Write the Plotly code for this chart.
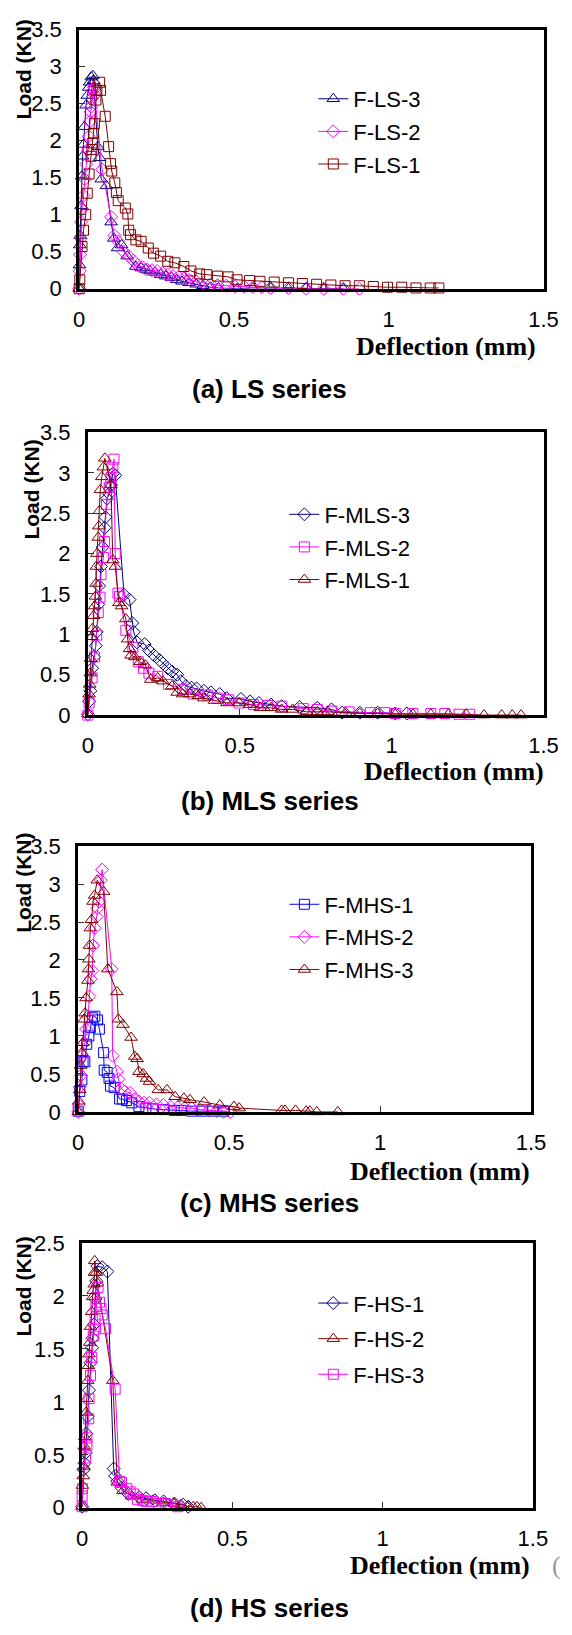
import plotly.graph_objects as go

W, H = 572, 1635

# ---------------- data ----------------
# (a) LS series
x_ls3 = [0.000, 0.001, 0.002, 0.003, 0.006, 0.008, 0.011, 0.014, 0.017, 0.022, 0.026, 0.031, 0.034, 0.039, 0.044, 0.046,
         0.060, 0.066, 0.071, 0.088, 0.103, 0.112, 0.124, 0.137, 0.155, 0.183, 0.200, 0.215, 0.229, 0.245, 0.263, 0.280,
         0.298, 0.315, 0.332, 0.355, 0.378, 0.400, 0.424, 0.450, 0.510, 0.561, 0.618, 0.676, 0.733, 0.790, 0.853]
y_ls3 = [0.00, 0.32, 0.59, 0.72, 1.12, 1.52, 1.79, 1.95, 2.19, 2.48, 2.61, 2.72, 2.79, 2.86, 2.88, 2.81,
         1.92, 1.77, 1.48, 1.39, 0.90, 0.68, 0.55, 0.59, 0.44, 0.30, 0.28, 0.26, 0.24, 0.22, 0.19, 0.17,
         0.15, 0.12, 0.10, 0.08, 0.06, 0.04, 0.02, 0.01, 0.00, 0.01, 0.01, 0.00, 0.01, 0.00, 0.00]

x_ls2 = [0.000, 0.002, 0.003, 0.005, 0.006, 0.009, 0.014, 0.018, 0.023, 0.029, 0.031, 0.034, 0.037, 0.039, 0.041, 0.045,
         0.048, 0.050, 0.074, 0.103, 0.114, 0.126, 0.143, 0.160, 0.175, 0.189, 0.204, 0.218, 0.235, 0.252, 0.270, 0.286,
         0.303, 0.321, 0.338, 0.355, 0.378, 0.401, 0.424, 0.447, 0.475, 0.504, 0.532, 0.561, 0.590, 0.618, 0.676, 0.733,
         0.790, 0.853, 0.905]
y_ls2 = [0.00, 0.24, 0.46, 0.68, 0.90, 1.08, 1.26, 1.48, 1.68, 1.88, 2.06, 2.26, 2.39, 2.46, 2.57, 2.68,
         2.72, 2.62, 1.61, 0.97, 0.72, 0.64, 0.50, 0.44, 0.38, 0.32, 0.29, 0.26, 0.25, 0.24, 0.21, 0.19,
         0.17, 0.16, 0.14, 0.12, 0.10, 0.08, 0.06, 0.05, 0.04, 0.03, 0.03, 0.02, 0.02, 0.01, 0.01, 0.00,
         0.00, 0.00, 0.00]

x_ls1 = [0.000, 0.002, 0.009, 0.014, 0.021, 0.026, 0.032, 0.038, 0.041, 0.044, 0.046, 0.049, 0.054, 0.057, 0.066, 0.069,
         0.084, 0.095, 0.101, 0.105, 0.115, 0.120, 0.126, 0.149, 0.157, 0.160, 0.166, 0.183, 0.200, 0.223, 0.240, 0.263,
         0.286, 0.309, 0.338, 0.361, 0.389, 0.412, 0.447, 0.481, 0.510, 0.550, 0.584, 0.630, 0.676, 0.721, 0.767, 0.813,
         0.859, 0.905, 0.950, 0.996, 1.042, 1.088, 1.134, 1.162]
y_ls1 = [0.00, 0.12, 0.57, 0.79, 1.00, 1.29, 1.55, 1.79, 1.88, 1.97, 2.10, 2.23, 2.55, 2.68, 2.79, 2.68,
         2.33, 1.92, 1.69, 1.59, 1.43, 1.30, 1.19, 1.09, 1.01, 0.79, 0.73, 0.66, 0.64, 0.55, 0.48, 0.44,
         0.37, 0.35, 0.30, 0.24, 0.20, 0.19, 0.17, 0.16, 0.12, 0.11, 0.10, 0.09, 0.08, 0.07, 0.06, 0.05,
         0.04, 0.04, 0.03, 0.02, 0.02, 0.01, 0.01, 0.01]

# (b) MLS series
x_mls3 = [0.000, 0.004, 0.008, 0.014, 0.020, 0.026, 0.029, 0.034, 0.037, 0.043, 0.049, 0.055, 0.058, 0.063, 0.070, 0.076,
          0.082, 0.090, 0.119, 0.137, 0.146, 0.151, 0.162, 0.187, 0.201, 0.218, 0.236, 0.247, 0.263, 0.277, 0.294, 0.306,
          0.323, 0.341, 0.358, 0.382, 0.405, 0.434, 0.457, 0.504, 0.534, 0.563, 0.603, 0.638, 0.697, 0.755, 0.802, 0.837,
          0.895, 0.954, 1.012, 1.050]
y_mls3 = [0.01, 0.17, 0.30, 0.58, 0.72, 0.86, 1.03, 1.37, 1.60, 1.84, 2.08, 2.32, 2.45, 2.68, 2.74, 2.85,
          2.99, 2.97, 1.49, 1.43, 1.14, 1.03, 0.90, 0.88, 0.80, 0.74, 0.68, 0.64, 0.58, 0.54, 0.50, 0.42,
          0.36, 0.34, 0.33, 0.30, 0.28, 0.26, 0.21, 0.20, 0.17, 0.15, 0.13, 0.11, 0.10, 0.09, 0.07, 0.03,
          0.03, 0.03, 0.02, 0.02]

x_mls2 = [0.000, 0.004, 0.014, 0.022, 0.029, 0.034, 0.040, 0.043, 0.051, 0.055, 0.061, 0.070, 0.076, 0.082, 0.086, 0.090,
          0.099, 0.104, 0.125, 0.148, 0.166, 0.183, 0.201, 0.230, 0.265, 0.312, 0.347, 0.393, 0.428, 0.463, 0.498, 0.545,
          0.592, 0.638, 0.709, 0.755, 0.802, 0.860, 0.930, 0.977, 1.012, 1.070, 1.129, 1.175, 1.222, 1.257]
y_mls2 = [0.00, 0.15, 0.46, 0.72, 0.99, 1.27, 1.46, 1.74, 1.95, 2.15, 2.61, 2.82, 2.94, 3.07, 3.17, 2.00,
          1.51, 1.47, 1.05, 0.84, 0.66, 0.58, 0.52, 0.48, 0.38, 0.32, 0.26, 0.25, 0.21, 0.19, 0.15, 0.13,
          0.12, 0.11, 0.08, 0.07, 0.05, 0.04, 0.03, 0.03, 0.02, 0.02, 0.02, 0.02, 0.01, 0.01]

x_mls1 = [0.000, 0.004, 0.006, 0.008, 0.009, 0.013, 0.015, 0.019, 0.022, 0.025, 0.027, 0.028, 0.030, 0.034, 0.036, 0.038,
          0.041, 0.046, 0.051, 0.056, 0.076, 0.082, 0.090, 0.102, 0.111, 0.125, 0.131, 0.137, 0.142, 0.154, 0.172, 0.189,
          0.207, 0.230, 0.247, 0.277, 0.294, 0.312, 0.335, 0.364, 0.382, 0.417, 0.458, 0.498, 0.533, 0.568, 0.603, 0.638,
          0.674, 0.720, 0.755, 0.790, 0.849, 0.895, 0.954, 1.012, 1.070, 1.129, 1.187, 1.245, 1.304, 1.362, 1.397, 1.426]
y_mls1 = [0.01, 0.26, 0.38, 0.52, 0.70, 0.97, 1.07, 1.23, 1.35, 1.47, 1.63, 1.84, 2.00, 2.20, 2.34, 2.53,
          2.79, 2.95, 3.07, 3.18, 2.85, 1.92, 1.84, 1.39, 1.35, 1.19, 0.94, 0.82, 0.74, 0.72, 0.66, 0.62,
          0.44, 0.46, 0.42, 0.36, 0.28, 0.26, 0.26, 0.24, 0.21, 0.18, 0.15, 0.15, 0.13, 0.09, 0.09, 0.07,
          0.07, 0.04, 0.04, 0.04, 0.03, 0.02, 0.02, 0.01, 0.01, 0.01, 0.01, 0.01, 0.00, 0.00, 0.00, 0.00]

# (c) MHS series
x_mhs1 = [0.000, 0.005, 0.012, 0.016, 0.022, 0.028, 0.035, 0.040, 0.047, 0.055, 0.064, 0.070, 0.084, 0.086, 0.096, 0.102,
          0.107, 0.119, 0.137, 0.146, 0.160, 0.177, 0.201, 0.224, 0.247, 0.282, 0.318, 0.341, 0.376, 0.411, 0.446, 0.481]
y_mhs1 = [0.01, 0.27, 0.42, 0.66, 0.66, 0.89, 1.00, 1.11, 1.24, 1.26, 1.21, 1.09, 0.78, 0.55, 0.52, 0.44,
          0.34, 0.32, 0.17, 0.17, 0.15, 0.12, 0.07, 0.05, 0.04, 0.03, 0.02, 0.02, 0.01, 0.01, 0.01, 0.01]

x_mhs2 = [0.000, 0.002, 0.005, 0.009, 0.014, 0.021, 0.026, 0.033, 0.037, 0.041, 0.047, 0.049, 0.055, 0.061, 0.064, 0.069,
          0.075, 0.079, 0.111, 0.114, 0.128, 0.133, 0.142, 0.154, 0.172, 0.187, 0.201, 0.218, 0.236, 0.259, 0.282, 0.306,
          0.329, 0.353, 0.376, 0.405, 0.434, 0.458, 0.481, 0.504]
y_mhs2 = [0.00, 0.09, 0.33, 0.48, 0.74, 0.91, 1.09, 1.26, 1.52, 1.75, 1.86, 2.19, 2.42, 2.57, 2.68, 2.77,
          3.05, 3.19, 1.88, 0.74, 0.53, 0.43, 0.31, 0.27, 0.25, 0.17, 0.14, 0.12, 0.12, 0.10, 0.09, 0.07,
          0.06, 0.05, 0.05, 0.03, 0.02, 0.01, 0.00, 0.00]

x_mhs3 = [0.000, 0.002, 0.005, 0.008, 0.012, 0.015, 0.020, 0.023, 0.026, 0.032, 0.034, 0.035, 0.037, 0.040, 0.044, 0.049,
          0.054, 0.063, 0.084, 0.098, 0.128, 0.133, 0.148, 0.175, 0.187, 0.195, 0.201, 0.215, 0.226, 0.236, 0.265, 0.294,
          0.321, 0.350, 0.370, 0.417, 0.469, 0.516, 0.533, 0.674, 0.685, 0.720, 0.755, 0.767, 0.790, 0.860]
y_mhs3 = [0.00, 0.14, 0.29, 0.61, 0.78, 0.91, 1.22, 1.30, 1.50, 1.73, 1.88, 2.01, 2.19, 2.42, 2.53, 2.77,
          2.85, 3.05, 2.90, 1.88, 1.58, 1.22, 1.15, 0.98, 0.73, 0.70, 0.53, 0.50, 0.44, 0.40, 0.29, 0.29,
          0.20, 0.18, 0.16, 0.13, 0.09, 0.07, 0.05, 0.02, 0.02, 0.02, 0.01, 0.01, 0.00, 0.00]

# (d) HS series
x_hs1 = [0.000, 0.005, 0.008, 0.012, 0.014, 0.018, 0.023, 0.028, 0.033, 0.035, 0.040, 0.044, 0.047, 0.051, 0.067, 0.084,
         0.105, 0.110, 0.117, 0.131, 0.154, 0.190, 0.213, 0.242, 0.271, 0.307, 0.336, 0.353]
y_hs1 = [0.01, 0.36, 0.42, 0.52, 0.70, 0.86, 1.11, 1.37, 1.51, 1.60, 1.73, 1.97, 2.14, 2.28, 2.27, 2.23,
         0.37, 0.30, 0.25, 0.19, 0.13, 0.10, 0.09, 0.07, 0.06, 0.04, 0.03, 0.01]

x_hs2 = [0.000, 0.001, 0.004, 0.006, 0.007, 0.009, 0.013, 0.016, 0.019, 0.021, 0.023, 0.026, 0.028, 0.032, 0.035, 0.037,
         0.040, 0.041, 0.042, 0.047, 0.051, 0.102, 0.117, 0.136, 0.165, 0.200, 0.235, 0.271, 0.306, 0.329, 0.353, 0.370,
         0.382, 0.396]
y_hs2 = [0.01, 0.21, 0.30, 0.39, 0.58, 0.67, 0.90, 1.03, 1.20, 1.34, 1.45, 1.56, 1.71, 1.85, 1.99, 2.05,
         2.11, 2.22, 2.33, 2.22, 2.12, 1.20, 0.24, 0.16, 0.11, 0.08, 0.07, 0.05, 0.04, 0.03, 0.01, 0.01,
         0.01, 0.00]

x_hs3 = [0.000, 0.000, 0.001, 0.011, 0.016, 0.016, 0.022, 0.023, 0.028, 0.032, 0.037, 0.040, 0.043, 0.046, 0.053, 0.058,
         0.063, 0.067, 0.078, 0.110, 0.125, 0.131, 0.149, 0.160, 0.172, 0.184, 0.201, 0.213, 0.236, 0.254, 0.277, 0.295,
         0.318]
y_hs3 = [0.01, 0.11, 0.18, 0.47, 0.59, 0.66, 0.84, 1.03, 1.25, 1.42, 1.62, 1.68, 1.79, 1.90, 2.08, 1.94,
         1.88, 1.82, 1.69, 1.12, 0.25, 0.24, 0.18, 0.15, 0.13, 0.08, 0.07, 0.06, 0.06, 0.04, 0.04, 0.03,
         0.01]

x_ticks = [0, 0.5, 1, 1.5]
y_ticks_35 = [0, 0.5, 1, 1.5, 2, 2.5, 3, 3.5]
y_ticks_25 = [0, 0.5, 1, 1.5, 2, 2.5]

NAVY, MAG, DRED, BLUE = "#000080", "#FF00FF", "#800000", "#0000FF"

panels = [
    dict(series=[("F-LS-3", x_ls3, y_ls3, NAVY, "triangle-up-open"),
                 ("F-LS-2", x_ls2, y_ls2, MAG, "diamond-open"),
                 ("F-LS-1", x_ls1, y_ls1, DRED, "square-open")],
         ymax=3.5, yt=y_ticks_35, box=(76, 558, 18, 281), caption="(a) LS series",
         ytitle_y=58, ytitle_x=18, xtitle=(552, 340), cap_y=383, leg=(319, 67), gap=1),
    dict(series=[("F-MLS-3", x_mls3, y_mls3, NAVY, "diamond-open"),
                 ("F-MLS-2", x_mls2, y_mls2, MAG, "square-open"),
                 ("F-MLS-1", x_mls1, y_mls1, DRED, "triangle-up-open")],
         ymax=3.5, yt=y_ticks_35, box=(85, 558, 427, 714), caption="(b) MLS series",
         ytitle_y=485, ytitle_x=27, xtitle=(561, 771), cap_y=801, leg=(289, 489), gap=1),
    dict(series=[("F-MHS-1", x_mhs1, y_mhs1, BLUE, "square-open"),
                 ("F-MHS-2", x_mhs2, y_mhs2, MAG, "diamond-open"),
                 ("F-MHS-3", x_mhs3, y_mhs3, DRED, "triangle-up-open")],
         ymax=3.5, yt=y_ticks_35, box=(75, 545, 847, 1117), caption="(c) MHS series",
         ytitle_y=884, ytitle_x=18, xtitle=(546, 1177), cap_y=1210, leg=(289, 885), gap=1),
    dict(series=[("F-HS-1", x_hs1, y_hs1, NAVY, "diamond-open"),
                 ("F-HS-2", x_hs2, y_hs2, DRED, "triangle-up-open"),
                 ("F-HS-3", x_hs3, y_hs3, MAG, "square-open")],
         ymax=2.5, yt=y_ticks_25, box=(79, 547, 1250, 1519), caption="(d) HS series",
         ytitle_y=1294, ytitle_x=18, xtitle=(546, 1578), cap_y=1621, leg=(319, 1290), gap=4),
]

fig = go.Figure()
annotations = []
layout = {}


def px(x):
    return x / W


def py(y):
    return 1 - y / H


sizes = {"triangle-up-open": 11, "diamond-open": 10, "square-open": 10}

for i, p in enumerate(panels):
    n = "" if i == 0 else str(i + 1)
    L, R, T, B = p["box"]
    legname = "legend" + n
    for name, xs, ys, col, sym in p["series"]:
        fig.add_trace(go.Scatter(
            x=xs, y=ys, name=name, mode="lines+markers",
            xaxis="x" + n, yaxis="y" + n, legend=legname, legendgroup=name,
            line=dict(color=col, width=1),
            marker=dict(symbol=sym, size=sizes[sym], color=col, line=dict(color=col, width=1)),
            cliponaxis=False,
        ))
    common = dict(showline=True, mirror=True, linewidth=3, linecolor="black",
                  showgrid=False, zeroline=False, ticks="inside", ticklen=6, tickwidth=1,
                  tickcolor="#333333",
                  tickfont=dict(family="Liberation Sans, Arial", size=22, color="black"))
    layout["xaxis" + n] = dict(domain=[px(L), px(R)], range=[0, 1.5], tickvals=x_ticks,
                               anchor="y" + n, ticklabelstandoff=9, **common)
    layout["yaxis" + n] = dict(domain=[py(B), py(T)], range=[0, p["ymax"]], tickvals=p["yt"],
                               anchor="x" + n, ticklabelstandoff=10, **common)
    lx, ly = p["leg"]
    layout[legname] = dict(x=px(lx), y=py(ly), xanchor="left", yanchor="top",
                           font=dict(family="Liberation Sans, Arial", size=22, color="black"),
                           bgcolor="rgba(0,0,0,0)", tracegroupgap=p["gap"], traceorder="grouped")
    annotations.append(dict(text="<b>Load (KN)</b>", x=px(p["ytitle_x"]), y=py(p["ytitle_y"]),
                            xref="paper", yref="paper", textangle=-90, showarrow=False,
                            xanchor="center", yanchor="middle",
                            font=dict(family="Liberation Sans, Arial", size=21, color="black")))
    tx, ty = p["xtitle"]
    annotations.append(dict(text="<b>Deflection (mm)</b>", x=px(tx), y=py(ty),
                            xref="paper", yref="paper", showarrow=False,
                            xanchor="right", yanchor="middle",
                            font=dict(family="Liberation Serif, Times New Roman", size=26, color="black")))
    annotations.append(dict(text="<b>" + p["caption"] + "</b>", x=px(274), y=py(p["cap_y"]),
                            xref="paper", yref="paper", showarrow=False,
                            xanchor="center", yanchor="middle",
                            font=dict(family="Liberation Sans, Arial", size=26, color="black")))

annotations.append(dict(text="(", x=px(565), y=py(1578), xref="paper", yref="paper", showarrow=False,
                        xanchor="left", yanchor="middle",
                        font=dict(family="Liberation Serif", size=26, color="#999999")))

fig.update_layout(**layout)
fig.update_layout(width=W, height=H, margin=dict(l=0, r=0, t=0, b=0),
                  paper_bgcolor="white", plot_bgcolor="white",
                  annotations=annotations, showlegend=True)

fig.write_html("out.html")
